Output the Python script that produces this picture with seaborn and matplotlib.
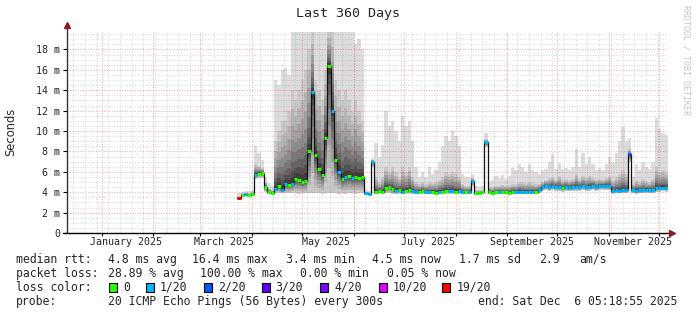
import datetime as dt
import numpy as np
import pandas as pd
import matplotlib
matplotlib.use("Agg")
import matplotlib.pyplot as plt
from matplotlib.patches import Rectangle
import seaborn as sns

# ---------------- data ----------------
title = "Last 360 Days"
y_label = "Seconds"
start = dt.datetime(2024, 12, 11, 5, 18, 55)
end = dt.datetime(2025, 12, 6, 5, 18, 55)
first_bin = dt.datetime(2025, 3, 23, 5, 18, 55)
bin_days = 2

median_ms = [3.4, 3.75, 3.8, 3.75, 3.85,
             5.7, 5.8, 5.9,
             4.5, 4.0, 3.95,
             4.3, 4.6, 4.2, 4.8, 4.7, 4.8,
             5.3, 5.2, 5.0, 5.1,
             8.0, 13.8,
             7.6, 6.3, 5.7, 9.3,
             16.4, 12.0,
             7.2, 6.0,
             5.3, 5.5, 5.6, 5.4, 5.5, 5.4, 5.5,
             3.9, 3.8,
             7.0,
             4.0, 4.1, 4.0,
             4.4, 4.5, 4.3,
             4.1, 4.2, 4.0, 4.1, 4.2, 4.1, 4.0, 4.05, 4.1, 4.0, 4.0, 4.05, 3.95, 4.0, 4.05, 4.1, 4.1,
             4.1, 4.05, 4.1, 4.0, 4.0, 4.05,
             5.1,
             3.9, 3.95, 4.0,
             8.9,
             4.0, 3.95, 4.0, 4.05, 4.0, 4.0, 3.95, 4.0, 4.05, 4.05, 4.0, 4.05, 4.0, 4.05, 4.0,
             4.2, 4.5, 4.6,
             4.5, 4.6, 4.55, 4.5, 4.4, 4.5, 4.45, 4.5, 4.55, 4.5, 4.6, 4.5, 4.55, 4.6, 4.5, 4.6, 4.65, 4.6, 4.6,
             4.1, 4.2, 4.15, 4.2, 4.2,
             7.7,
             4.2, 4.15, 4.2, 4.2, 4.25, 4.2, 4.2,
             4.4, 4.4, 4.45, 4.4]

smoke_max_ms = [3.9, 4.0, 4.1, 4.1, 4.2,
                8.5, 7.8, 7.2,
                5.5, 4.9, 4.6,
                15.0, 14.5, 16.0, 16.2, 15.5, 19.75,
                19.75, 19.75, 19.75, 19.75,
                19.75, 19.75,
                19.75, 19.75, 19.75, 19.75,
                19.75, 19.75,
                19.75, 19.75,
                19.75, 19.75, 19.75, 19.75, 18.5, 19.0, 18.0,
                4.2, 4.1,
                7.4,
                8.8, 7.5, 8.6,
                12.0, 10.5, 11.0,
                10.0, 9.0, 11.5, 10.5, 11.0, 9.0,
                6.5, 5.5, 6.0, 5.5, 6.5, 5.8, 6.2, 7.0, 8.5, 9.5, 9.0,
                10.0, 9.5, 8.5, 5.8, 5.5, 5.5,
                5.8,
                4.6, 4.5, 4.6,
                9.8,
                5.0, 5.2, 5.6, 5.4, 5.7, 5.3, 5.6, 6.4, 6.2, 6.8, 6.5, 6.0, 6.8, 6.2, 6.0,
                5.8, 6.2, 6.3,
                7.0, 7.7, 6.3, 6.9, 6.3, 6.4, 6.2, 6.5, 8.2, 6.5, 7.8, 6.8, 7.5, 6.8, 6.2, 6.4, 6.2, 6.8, 7.5,
                7.0, 7.8, 9.0, 10.4, 9.0,
                9.3,
                5.5, 6.8, 6.2, 7.0, 6.5, 6.3, 7.0,
                11.3, 10.2, 9.8, 9.6]

smoke_mid_ms = [3.55, 3.9, 3.95, 3.9, 4.0,
                6.8, 6.6, 6.4,
                5.0, 4.4, 4.2,
                9.0, 10.0, 11.0, 11.0, 12.0, 14.0,
                13.0, 14.0, 15.0, 16.0,
                18.0, 19.75,
                15.0, 14.0, 13.0, 16.0,
                19.75, 19.75,
                15.0, 14.0,
                13.0, 14.0, 13.0, 12.0, 13.0, 12.0, 11.0,
                4.0, 3.9,
                7.2,
                5.5, 5.0, 5.5,
                6.5, 6.0, 6.5,
                6.0, 5.5, 6.5, 6.0, 6.5, 5.5,
                5.0, 4.8, 5.0, 4.8, 5.0, 4.9, 5.0, 5.2, 5.5, 6.0, 5.8,
                6.0, 5.8, 5.5, 4.8, 4.6, 4.6,
                5.4,
                4.2, 4.2, 4.2,
                9.2,
                4.5, 4.5, 4.6, 4.6, 4.7, 4.6, 4.7, 4.8, 4.8, 5.0, 5.0, 4.9, 5.0, 4.9, 4.8,
                4.8, 5.0, 5.2,
                5.4, 5.5, 5.2, 5.6, 5.2, 5.3, 5.2, 5.3, 5.8, 5.3, 5.6, 5.4, 5.6, 5.4, 5.2, 5.3, 5.2, 5.4, 5.6,
                5.2, 5.5, 5.8, 6.2, 5.8,
                8.2,
                4.8, 5.2, 5.0, 5.3, 5.1, 5.0, 5.3,
                6.5, 6.0, 6.2, 6.0]

smoke_min_ms = [3.3, 3.6, 3.65, 3.6, 3.7,
                5.3, 5.4, 5.4,
                4.0, 3.85, 3.8,
                3.95, 3.9, 3.9, 3.95, 3.9, 3.9,
                3.9, 3.85, 3.9, 3.9,
                3.9, 3.95,
                3.9, 3.9, 3.85, 3.9,
                3.9, 3.95,
                3.9, 3.85,
                3.9, 3.85, 3.9, 3.9, 3.85, 3.9, 3.9,
                3.75, 3.7,
                6.5,
                3.85, 3.85, 3.85,
                3.9, 3.9, 3.85,
                3.85, 3.85, 3.8, 3.85, 3.85, 3.85,
                3.8, 3.85, 3.85, 3.8, 3.8, 3.85, 3.8, 3.8, 3.85, 3.85, 3.85,
                3.85, 3.85, 3.85, 3.8, 3.8, 3.85,
                4.6,
                3.75, 3.8, 3.8,
                8.4,
                3.8, 3.75, 3.8, 3.85, 3.8, 3.8, 3.75, 3.8, 3.85, 3.85, 3.8, 3.85, 3.8, 3.85, 3.8,
                3.9, 4.1, 4.2,
                4.1, 4.2, 4.15, 4.1, 4.05, 4.1, 4.1, 4.1, 4.15, 4.1, 4.2, 4.1, 4.15, 4.2, 4.1, 4.2, 4.25, 4.2, 4.2,
                3.85, 3.9, 3.9, 3.9, 3.9,
                7.0,
                3.9, 3.85, 3.9, 3.9, 3.95, 3.9, 3.9,
                4.05, 4.05, 4.1, 4.05]

loss_lost = [19, 0, 1, 0, 0,
             1, 0, 0, 0, 0, 0,
             1, 0, 1, 1, 0, 1,
             0, 0, 0, 0, 0,
             1,
             0, 0, 0, 0, 0, 1, 0, 1,
             0, 1, 0, 1, 0, 0, 0,
             1, 1, 1,
             0, 0, 0, 0, 0, 0,
             1, 0, 1, 0, 0, 1,
             1, 0, 0, 1, 1, 0, 0, 1, 0, 0, 1,
             1, 0, 1, 1, 0, 1,
             1,
             0, 0, 0,
             1,
             0, 0, 0, 1, 0, 0, 0, 0, 1,
             1, 1, 1, 1, 1, 0,
             1, 1, 1, 1, 1, 1, 1,
             0,
             1, 1, 1, 1, 1, 1, 1, 1, 1, 1, 1, 1, 1, 1, 1, 1, 1, 1,
             1,
             2,
             1, 1, 1, 1, 1, 1, 1, 1, 1, 1, 1]

y_ticks = [0, 2, 4, 6, 8, 10, 12, 14, 16, 18]
y_tick_labels = ["0", "2 m", "4 m", "6 m", "8 m", "10 m", "12 m", "14 m", "16 m", "18 m"]
x_labels = ["January 2025", "March 2025", "May 2025", "July 2025",
            "September 2025", "November 2025"]
x_label_dates = [dt.datetime(2025, 1, 15, 12), dt.datetime(2025, 3, 15, 12),
                 dt.datetime(2025, 5, 15, 12), dt.datetime(2025, 7, 15, 12),
                 dt.datetime(2025, 9, 15, 12), dt.datetime(2025, 11, 15, 0)]

loss_levels = [0, 1, 2, 3, 4, 10, 19]
loss_labels = ["0", "1/20", "2/20", "3/20", "4/20", "10/20", "19/20"]
loss_colors = ["#26ff00", "#00b8ff", "#0059ff", "#5e00ff", "#7e00ff", "#dd00ff", "#ff0000"]

rtt_stats = ["4.8 ms avg", "16.4 ms max", "3.4 ms min", "4.5 ms now", "1.7 ms sd", "2.9", "am/s"]
loss_stats = ["28.89 % avg", "100.00 % max", "0.00 % min", "0.05 % now"]
probe_text = "20 ICMP Echo Pings (56 Bytes) every 300s"
end_text = "end: Sat Dec  6 05:18:55 2025"
watermark = "RRDTOOL / TOBI OETIKER"

# ---------------- layout ----------------
W, H = 697, 315
def fx(px):
    return px / W
def fy(py):
    return 1 - py / H

sns.set_theme(style="white")
plt.rcParams["font.family"] = ["DejaVu Sans Mono"]
MONO = "DejaVu Sans Mono"

fig = plt.figure(figsize=(W / 100, H / 100), dpi=100)
fig.patch.set_facecolor("white")
Y_TOP = 19.75
ax = fig.add_axes([fx(67), fy(233), (668 - 67) / W, (233 - 31.6) / H])
ax.set_facecolor("white")

def day(d):
    return (d - start).total_seconds() / 86400.0

total = day(end)
ax.set_xlim(0, total)
ax.set_ylim(0, Y_TOP)

n = len(median_ms)
med = np.array(median_ms, float)
hi = np.array(smoke_max_ms, float)
mid = np.array(smoke_mid_ms, float)
lo = np.array(smoke_min_ms, float)
edges = day(first_bin) + bin_days * np.arange(n + 1)

def stepify(v):
    return np.append(v, v[-1])

# smoke (light envelope + darker shading toward the median)
ax.fill_between(edges, stepify(lo), stepify(hi), step="post", color="#dcdcdc", lw=0, zorder=1)
shade_f = [1.0, 0.8, 0.62, 0.47, 0.34, 0.23, 0.14, 0.07]
shade_c = ["#c8c8c8", "#b4b4b4", "#a0a0a0", "#8c8c8c", "#787878", "#646464", "#505050", "#3c3c3c"]
for k, (f, c) in enumerate(zip(shade_f, shade_c)):
    bot = med - (med - lo) * f
    top = med + (mid - med) * f
    ax.fill_between(edges, stepify(bot), stepify(top), step="post", color=c, lw=0,
                    zorder=1.1 + 0.05 * k)

# grid
DOT = (0, (1, 1.6))
minor_y = [v for v in np.arange(0.5, Y_TOP, 0.5) if abs(v / 2 - round(v / 2)) > 1e-6]
ax.hlines(minor_y, 0, total, colors="#808080", alpha=0.3, lw=0.72, linestyles=DOT, zorder=3)
weeks = []
d = dt.datetime(2024, 12, 15)
while d < end:
    weeks.append(day(d))
    d += dt.timedelta(days=7)
ax.vlines(weeks, 0, Y_TOP, colors="#808080", alpha=0.3, lw=0.72, linestyles=DOT, zorder=3)
months = [day(dt.datetime(2025, m, 1)) for m in range(1, 13)]
ax.vlines(months, 0, Y_TOP, colors="#ff0000", alpha=0.35, lw=0.72, linestyles=DOT, zorder=3.1)
ax.hlines(y_ticks[1:], 0, total, colors="#ff0000", alpha=0.35, lw=0.72, linestyles=DOT, zorder=3.1)

# median line (black) + loss-coloured segments
df = pd.DataFrame({"day": edges, "median": stepify(med)})
sns.lineplot(data=df, x="day", y="median", drawstyle="steps-post", color="#101010",
             lw=0.9, ax=ax, zorder=5, estimator=None, sort=False)
cmap = dict(zip(loss_levels, loss_colors))
ax.hlines(med, edges[:-1], edges[1:], colors=[cmap[l] for l in loss_lost], lw=2.2, zorder=6)

# axes
for s in ax.spines.values():
    s.set_visible(False)
ax.set_xlabel("")
ax.set_ylabel("")
ax.set_yticks(y_ticks)
ax.set_yticklabels(y_tick_labels, family=MONO, fontsize=7.2)
ax.tick_params(axis="y", length=3, width=0.8, color="#000000", pad=1.7, left=True)
ax.set_xticks([day(dd) for dd in x_label_dates])
ax.set_xticklabels(x_labels, family=MONO, fontsize=7.2)
ax.tick_params(axis="x", length=0, pad=3.0)
ax.grid(False)

px_day = total / (668 - 67)
arrow_c = "#8b1a1a"
ax.plot([0, 0], [0, 20.3], color="#333333", lw=1.0, clip_on=False, zorder=7)
ax.plot([-4 * px_day, total + 2 * px_day], [0, 0], color="#000000", lw=1.0, clip_on=False, zorder=7)
ax.plot([0], [20.35], marker="^", ms=5, color=arrow_c, clip_on=False, zorder=8)
ax.plot([total + 4 * px_day], [0], marker=">", ms=5, color=arrow_c, clip_on=False, zorder=8)
ax.vlines(months, -0.3, 0, colors="#000000", lw=0.8, clip_on=False, zorder=7)

# texts
fig.text(fx(348.5), fy(14), title, ha="center", va="center", fontsize=9.6, family=MONO)
fig.text(fx(11), fy(132), y_label, ha="center", va="center", rotation=90,
         fontsize=8.3, family="DejaVu Sans")
fig.text(fx(686), fy(5), watermark, ha="center", va="top", rotation=-90,
         fontsize=6, family=MONO, color="#c4c4c4")

LF = 8.3
def t(x, y, s):
    fig.text(fx(x), fy(y), s, ha="left", va="center", fontsize=LF, family=MONO)

t(16, 259.5, "median rtt:")
for xp, s in zip([107.5, 192, 285.5, 372, 459, 539, 579], rtt_stats):
    t(xp, 259.5, s)
t(16, 273.5, "packet loss:")
for xp, s in zip([107.5, 200, 300, 386.5], loss_stats):
    t(xp, 273.5, s)
t(16, 287.5, "loss color:")
sq_x = [108.5, 145.5, 204, 261.5, 320, 378.5, 442]
lab_x = [123, 160, 218.5, 275.5, 334, 393, 457]
for sx, lx, c, lab in zip(sq_x, lab_x, loss_colors, loss_labels):
    fig.patches.append(Rectangle((fx(sx), fy(292)), 8 / W, 9 / H, transform=fig.transFigure,
                                 facecolor=c, edgecolor="#000000", lw=0.8, figure=fig))
    t(lx, 287.5, lab)
t(16, 301.5, "probe:")
t(107.5, 301.5, probe_text)
t(478, 301.5, end_text)

fig.savefig("out.png", dpi=100, facecolor="white")
